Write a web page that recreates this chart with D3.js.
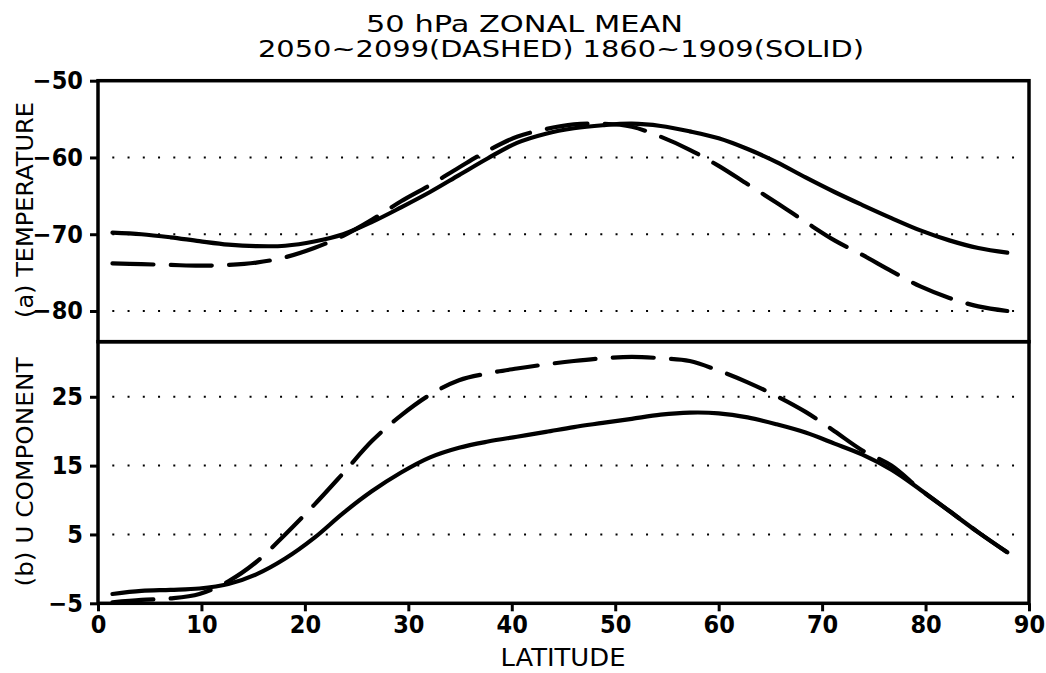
<!DOCTYPE html>
<html>
<head>
<meta charset="utf-8">
<script src="https://cdn.jsdelivr.net/npm/d3@7"></script>
<style>
  html, body { margin: 0; padding: 0; background: #fff; }
  svg { display: block; }
</style>
</head>
<body>
<svg id="chart" width="1046" height="673"></svg>
<script>
// ---------------- data ----------------
const lats = [1.4, 4.2, 7.0, 9.8, 12.6, 15.3, 18.1, 20.9, 23.7, 26.5, 29.3, 32.1, 34.9, 37.7, 40.5, 43.3,
              46.0, 48.8, 51.6, 54.4, 57.2, 60.0, 62.8, 65.6, 68.4, 71.2, 73.9, 76.7, 79.5, 82.3, 85.1, 87.9];

// (a) Temperature, 1860~1909 (solid)
const tempSolid = [-69.8, -70.0, -70.4, -70.9, -71.35, -71.55, -71.5, -70.95, -70.0, -68.4, -66.5, -64.5, -62.3, -60.1, -58.1, -56.9,
                   -56.2, -55.8, -55.6, -55.9, -56.6, -57.5, -58.9, -60.6, -62.6, -64.5, -66.2, -67.9, -69.5, -70.8, -71.8, -72.4];
// (a) Temperature, 2050~2099 (dashed)
const tempDashed = [-73.8, -73.9, -74.0, -74.1, -74.0, -73.7, -73.0, -71.8, -70.2, -68.1, -65.7, -63.6, -61.3, -59.1, -57.3, -56.3,
                    -55.7, -55.6, -56.0, -57.3, -59.0, -61.1, -63.5, -65.9, -68.4, -70.8, -72.7, -74.8, -76.8, -78.3, -79.4, -80.0];
// (b) U component, 1860~1909 (solid)
const uSolid = [-3.65, -3.2, -3.05, -2.85, -2.2, -0.8, 1.5, 4.5, 8.1, 11.3, 14.0, 16.2, 17.6, 18.5, 19.2, 19.9,
                20.6, 21.2, 21.8, 22.4, 22.7, 22.6, 22.0, 21.0, 19.8, 18.2, 16.6, 14.4, 11.5, 8.4, 5.3, 2.4];
// (b) U component, 2050~2099 (dashed)
const uDashed = [-4.85, -4.5, -4.3, -3.65, -1.8, 1.0, 5.0, 9.3, 13.9, 18.6, 22.3, 25.3, 27.4, 28.4, 29.1, 29.7,
                 30.2, 30.6, 30.8, 30.6, 30.2, 28.8, 27.1, 25.1, 22.8, 20.0, 17.2, 15.0, 11.5, 8.4, 5.3, 2.4];

const tempTicks = [-50, -60, -70, -80];
const tempGrid = [-60, -70, -80];
const uTicks = [25, 15, 5, -5];
const uGrid = [25, 15, 5];
const latTicks = [0, 10, 20, 30, 40, 50, 60, 70, 80, 90];

const titleLine1 = "50 hPa ZONAL MEAN";
const titleLine2 = "2050~2099(DASHED) 1860~1909(SOLID)";
const labelA = "(a)  TEMPERATURE";
const labelB = "(b)  U COMPONENT";
const xLabel = "LATITUDE";

// ---------------- layout ----------------
const svg = d3.select("#chart");
const X0 = 98, X1 = 1029;
const T0 = 80.7, MID = 341.7, B1 = 603.3;

const x = d3.scaleLinear().domain([0, 90]).range([X0, X1]);
const yT = d3.scaleLinear().domain([-84, -50]).range([MID, T0]);
const yU = d3.scaleLinear().domain([-5, 33]).range([B1, MID]);

const tickFont = "'Liberation Sans Narrow', 'DejaVu Sans Condensed', 'Liberation Sans', sans-serif";
const textFont = "'DejaVu Sans', 'Liberation Sans', sans-serif";

svg.append("rect").attr("width", 1046).attr("height", 673).attr("fill", "#fff");

// grid (dotted)
function grid(vals, y) {
  svg.append("g").selectAll("line").data(vals).join("line")
    .attr("x1", 112.3).attr("x2", 1015)
    .attr("y1", d => y(d)).attr("y2", d => y(d))
    .attr("stroke", "#000").attr("stroke-width", 2)
    .attr("stroke-dasharray", "2 13.25");
}
grid(tempGrid, yT);
grid(uGrid, yU);

// curves
const lineT = d3.line().x((d, i) => x(lats[i])).y(d => yT(d)).curve(d3.curveCatmullRom);
const lineU = d3.line().x((d, i) => x(lats[i])).y(d => yU(d)).curve(d3.curveCatmullRom);

function curve(data, gen, dashed) {
  svg.append("path").datum(data)
    .attr("d", gen)
    .attr("fill", "none").attr("stroke", "#000")
    .attr("stroke-width", 4.2)
    .attr("stroke-linecap", "round").attr("stroke-linejoin", "round")
    .attr("stroke-dasharray", dashed ? "41 17.3" : null);
}
curve(tempSolid, lineT, false);
curve(tempDashed, lineT, true);
curve(uSolid, lineU, false);
curve(uDashed, lineU, true);

// frames
svg.append("rect").attr("x", X0).attr("y", T0).attr("width", X1 - X0).attr("height", MID - T0)
  .attr("fill", "none").attr("stroke", "#000").attr("stroke-width", 3.5);
svg.append("rect").attr("x", X0).attr("y", MID).attr("width", X1 - X0).attr("height", B1 - MID)
  .attr("fill", "none").attr("stroke", "#000").attr("stroke-width", 3.5);

// axes
function styleAxis(g) {
  g.select(".domain").remove();
  g.selectAll(".tick line").attr("stroke", "#000").attr("stroke-width", 3);
  g.selectAll(".tick text").attr("fill", "#000")
    .style("font-family", tickFont).style("font-weight", "bold").style("font-size", "25px");
}
svg.append("g").attr("transform", `translate(${X0},0)`)
  .call(d3.axisLeft(yT).tickValues(tempTicks).tickSize(8).tickPadding(7))
  .call(styleAxis);
svg.append("g").attr("transform", `translate(${X0},0)`)
  .call(d3.axisLeft(yU).tickValues(uTicks).tickSize(8).tickPadding(7))
  .call(styleAxis);
svg.append("g").attr("transform", `translate(0,${B1})`)
  .call(d3.axisBottom(x).tickValues(latTicks).tickSize(8).tickPadding(4))
  .call(styleAxis);

// titles
svg.append("text").attr("x", 366).attr("y", 32)
  .attr("textLength", 317).attr("lengthAdjust", "spacingAndGlyphs")
  .style("font-family", textFont).style("font-size", "23px").text(titleLine1);
svg.append("text").attr("x", 258).attr("y", 57)
  .attr("textLength", 606).attr("lengthAdjust", "spacingAndGlyphs")
  .style("font-family", textFont).style("font-size", "23px").text(titleLine2);

svg.append("text").attr("transform", "translate(33,210) rotate(-90)")
  .attr("text-anchor", "middle")
  .attr("textLength", 216).attr("lengthAdjust", "spacingAndGlyphs")
  .style("font-family", textFont).style("font-size", "23px").text(labelA);
svg.append("text").attr("transform", "translate(33,472) rotate(-90)")
  .attr("text-anchor", "middle")
  .attr("textLength", 229).attr("lengthAdjust", "spacingAndGlyphs")
  .style("font-family", textFont).style("font-size", "23px").text(labelB);

svg.append("text").attr("x", 563).attr("y", 666).attr("text-anchor", "middle")
  .attr("textLength", 125).attr("lengthAdjust", "spacingAndGlyphs")
  .style("font-family", textFont).style("font-size", "25px").text(xLabel);
</script>
</body>
</html>
